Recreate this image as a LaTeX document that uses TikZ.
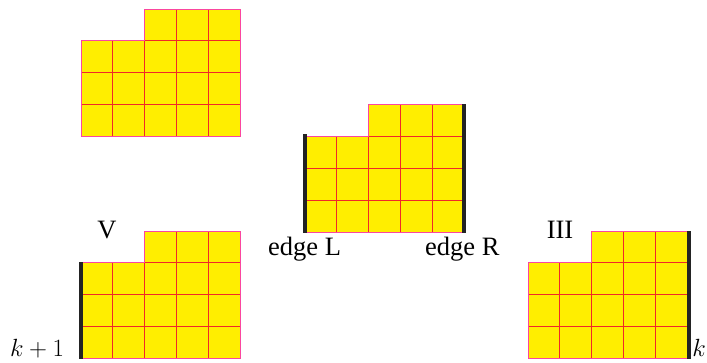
\documentclass[tikz,border=0pt]{standalone}
\usepackage{fontspec}
\setmainfont{Liberation Serif}
\definecolor{cellfill}{RGB}{255,238,0}
\definecolor{gridred}{RGB}{240,40,40}
\definecolor{rimpink}{RGB}{250,70,160}
\definecolor{barblack}{RGB}{35,35,35}
\newcommand\youngshape[2]{%
  \def\cc{31.85}%
  \fill[cellfill] (#1,#2) -- ++(5*\cc,0) -- ++(0,-4*\cc) -- ++(-3*\cc,0) -- ++(0,\cc) -- ++(-2*\cc,0) -- cycle;
  \draw[gridline] (#1,#2-\cc) -- ++(5*\cc,0);
  \draw[gridline] (#1,#2-2*\cc) -- ++(5*\cc,0);
  \draw[gridline] (#1+2*\cc,#2-3*\cc) -- ++(3*\cc,0);
  \draw[gridline] (#1+\cc,#2) -- ++(0,-3*\cc);
  \foreach \k in {2,3,4}{\draw[gridline] (#1+\k*\cc,#2) -- ++(0,-4*\cc);}
  \draw[rimline] (#1,#2) -- ++(5*\cc,0) -- ++(0,-4*\cc) -- ++(-3*\cc,0) -- ++(0,\cc) -- ++(-2*\cc,0) -- cycle;
}
\begin{document}
\begin{tikzpicture}[x=1pt,y=-1pt,
  gridline/.style={draw=gridred,line width=1pt},
  rimline/.style={draw=rimpink,line width=1pt,line join=miter},
  thickbar/.style={draw=barblack,line width=4pt},
  lab/.style={inner sep=0pt,font=\fontsize{26.5}{31}\selectfont},
  mlab/.style={inner sep=0pt,font=\fontsize{28}{32}\selectfont}]
\useasboundingbox (0,0) rectangle (707,362);
% shapes: left x, bottom y
\youngshape{81}{136.5}
\youngshape{305}{232}
\youngshape{81}{358.5}
\youngshape{528}{358.5}
% thick edges
\coordinate (mLt) at (305,134);
\coordinate (mLb) at (305,232.5);
\coordinate (mRt) at (464.2,104);
\coordinate (mRb) at (464.2,232.5);
\coordinate (vLt) at (81,262);
\coordinate (vLb) at (81,359);
\coordinate (tRt) at (688.5,231);
\coordinate (tRb) at (688.5,359);
\draw[thickbar] (mLt) -- (mLb);
\draw[thickbar] (mRt) -- (mRb);
\draw[thickbar] (vLt) -- (vLb);
\draw[thickbar] (tRt) -- (tRb);
% labels
\node[lab,anchor=base] (labV) at (107,238) {V};
\node[lab,anchor=base] (labIII) at (560,238) {III};
\node[lab,anchor=base west] (edgeL) at (268,255) {edge L};
\node[lab,anchor=base west] (edgeR) at (425,255) {edge R};
\node[mlab,anchor=base west] (kone) at (10,356) {$k+1$};
\node[mlab,anchor=base east] (kk) at (706,356) {$k$};
\end{tikzpicture}
\end{document}
